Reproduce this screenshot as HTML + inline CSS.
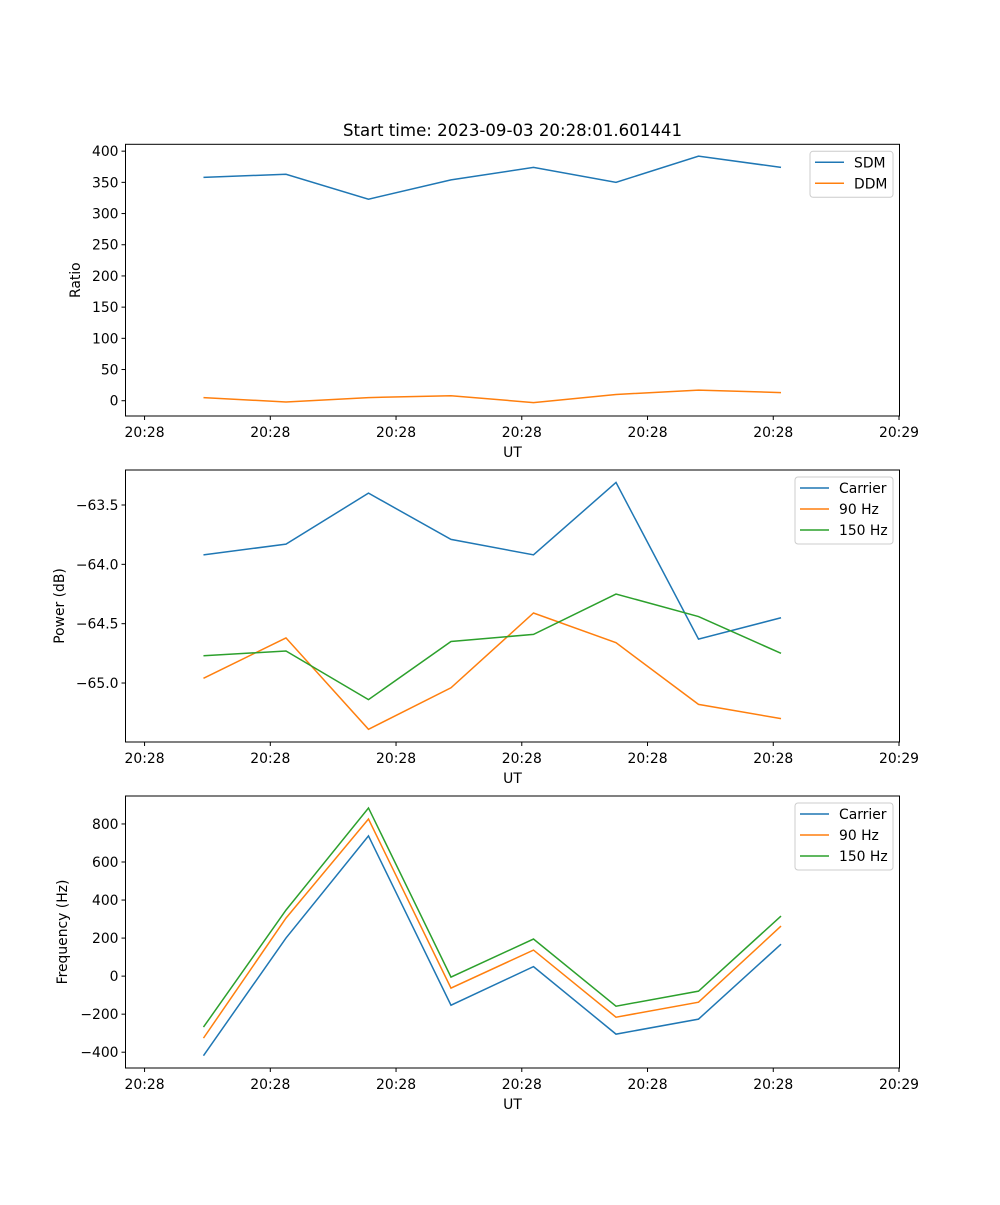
<!DOCTYPE html>
<html><head><meta charset="utf-8"><style>
body{margin:0;background:#fff;}
svg text{font-family:"DejaVu Sans","Liberation Sans",sans-serif;fill:#000;}
</style></head><body>
<svg id="chart" width="1000" height="1200" xmlns="http://www.w3.org/2000/svg">
<text x="512.5" y="136" font-size="16.6" text-anchor="middle">Start time: 2023-09-03 20:28:01.601441</text>
</svg>
<script>
const xIndex = [0,1,2,3,4,5,6,7];
const xTickVals = [-0.714,0.81,2.334,3.858,5.382,6.906,8.43];
const xTickLabels = ["20:28","20:28","20:28","20:28","20:28","20:28","20:29"];
const sdm = [358,363,323,354,374,350,392,374];
const ddm = [5,-2,5,8,-3,10,17,13];
const pCarrier = [-63.92,-63.83,-63.40,-63.79,-63.92,-63.31,-64.63,-64.45];
const p90 = [-64.96,-64.62,-65.39,-65.04,-64.41,-64.66,-65.18,-65.30];
const p150 = [-64.77,-64.73,-65.14,-64.65,-64.59,-64.25,-64.44,-64.75];
const fCarrier = [-418,200,737,-153,50,-305,-226,168];
const f90 = [-326,305,826,-63,137,-216,-137,263];
const f150 = [-268,347,884,-5,195,-158,-79,316];
const ticks1 = [0,50,100,150,200,250,300,350,400];
const ticks2 = [-65.0,-64.5,-64.0,-63.5];
const ticks3 = [-400,-200,0,200,400,600,800];

const NS="http://www.w3.org/2000/svg";
const svg=document.getElementById('chart');
function mk(tag,attrs,parent){const e=document.createElementNS(NS,tag);for(const k in attrs)e.setAttribute(k,attrs[k]);(parent||svg).appendChild(e);return e;}
const L=125.5,R=899.5;
const xMin=-0.945,xMax=8.43+ (899.5-899)/82.6;
function xs(v){return L+(v-xMin)/(xMax-xMin)*(R-L);}
const FS=13.9;

function panel(name,top,bot,yMin,yMax,ticks,fmt,ylabel,series,legend){
  const g=mk('g',{});
  
  
  const ys=v=>bot-(v-yMin)/(yMax-yMin)*(bot-top);
  series.forEach(s=>{
    const p=mk('polyline',{points:s.vals.map((v,i)=>xs(xIndex[i])+','+ys(v)).join(' '),fill:'none',stroke:s.color,'stroke-width':1.5},g);
    
    
  });
  const fr=mk('rect',{x:L,y:top,width:R-L,height:bot-top,fill:'none',stroke:'#000','stroke-width':1},g);
  
  
  xTickVals.forEach((v,i)=>{
    const x=xs(v);
    mk('line',{x1:x,x2:x,y1:bot,y2:bot+4,stroke:'#000'},g);
    const t=mk('text',{x:x,y:bot+21,'font-size':FS,'text-anchor':'middle'},g);
    t.textContent=xTickLabels[i];
    
    
  });
  ticks.forEach(v=>{
    const y=ys(v);
    mk('line',{x1:L-4,x2:L,y1:y,y2:y,stroke:'#000'},g);
    const t=mk('text',{x:L-7,y:y+5,'font-size':FS,'text-anchor':'end'},g);
    t.textContent=fmt(v);
    
    
  });
  const xl=mk('text',{x:512.5,y:bot+41,'font-size':FS,'text-anchor':'middle'},g);
  xl.textContent='UT';
  
  
  const yl=mk('text',{x:0,y:0,'font-size':FS,'text-anchor':'middle',transform:`translate(${legend.yx},${(top+bot)/2}) rotate(-90)`},g);
  yl.textContent=ylabel;
  
  
  const lg=mk('g',{},g);
  
  
  mk('rect',{x:legend.x,y:top+7,width:893-legend.x,height:series.length*21+4,rx:3,fill:'#fff','fill-opacity':0.8,stroke:'#ccc'},lg);
  series.forEach((s,i)=>{
    const y=top+18+i*21;
    mk('line',{x1:legend.x+5,x2:legend.x+34,y1:y,y2:y,stroke:s.color,'stroke-width':1.5},lg);
    const t=mk('text',{x:legend.x+44,y:y+5,'font-size':FS},lg);
    t.textContent=s.label;
    
    
  });
}
const fmtInt=v=>String(v).replace('-','\u2212');
const fmt1=v=>v.toFixed(1).replace('-','\u2212');
panel('ratio-panel',144.3,416,-24.5,411,ticks1,fmtInt,'Ratio',[
 {id:'sdm',label:'SDM',color:'#1f77b4',vals:sdm},{id:'ddm',label:'DDM',color:'#ff7f0e',vals:ddm}],{x:810,yx:80});
panel('power-panel',470,742,-65.497,-63.205,ticks2,fmt1,'Power (dB)',[
 {id:'carrier',label:'Carrier',color:'#1f77b4',vals:pCarrier},{id:'90hz',label:'90 Hz',color:'#ff7f0e',vals:p90},{id:'150hz',label:'150 Hz',color:'#2ca02c',vals:p150}],{x:795,yx:64});
panel('frequency-panel',796,1068,-483,947,ticks3,fmtInt,'Frequency (Hz)',[
 {id:'carrier',label:'Carrier',color:'#1f77b4',vals:fCarrier},{id:'90hz',label:'90 Hz',color:'#ff7f0e',vals:f90},{id:'150hz',label:'150 Hz',color:'#2ca02c',vals:f150}],{x:795,yx:67});
</script>
</body></html>
